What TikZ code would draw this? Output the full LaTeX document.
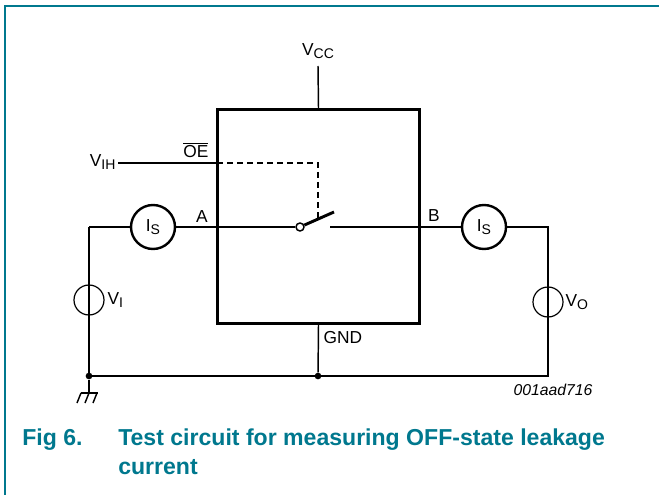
\documentclass[tikz,border=0pt]{standalone}
\usepackage{fontspec}
\setmainfont{Liberation Sans}
\definecolor{figteal}{RGB}{0,120,142}
\newcommand{\sig}[2]{#1\raisebox{-0.3ex}{\fontsize{10.5}{12}\selectfont #2}}

\begin{document}
\begin{tikzpicture}[x=0.75pt,y=-0.75pt,
    wire/.style={line width=1.1pt},
    dut/.style={draw,line width=2.2pt,minimum width=152pt,minimum height=160pt},
    meter/.style={circle,draw,line width=1.8pt,minimum size=33pt,inner sep=0pt,
      font=\fontsize{13}{15}\selectfont},
    source/.style={circle,draw,line width=0.9pt,minimum size=22.5pt,inner sep=0pt},
    junction/.style={circle,fill,inner sep=0pt,minimum size=5pt},
    lbl/.style={font=\fontsize{13}{15}\selectfont,inner sep=1pt},
    caption/.style={font=\bfseries\fontsize{17.3}{20}\selectfont,text=figteal,inner sep=0pt}]
    \useasboundingbox (0,0) rectangle (659,495);
    % frame
    \draw[figteal,line width=1.1pt] (5,495) -- (5,6) -- (659,6);

    \node[dut] at (318.5,216.5) (ic) {};
    \node[meter] at (153,227) (isa) {\sig{I}{S}};
    \node[meter] at (484,227) (isb) {\sig{I}{S}};
    \node[source] at (89,300) (vi) {};
    \node[source] at (548,302) (vo) {};
    \node[junction] at (89,376) (gnda) {};
    \node[junction] at (318,376) (gndb) {};
    \node[circle,draw,wire,fill=white,minimum size=6pt,inner sep=0pt]
      at (300,227) (pivot) {};

    \coordinate (vcc) at (318,66);
    \coordinate (vih) at (118,163);
    \coordinate (oe) at (217,163);
    \coordinate (ctrl) at (318,163);
    \coordinate (arm) at (318,219);
    \coordinate (lever) at (334,212);
    \coordinate (contact) at (330,227);
    \coordinate (lefttop) at (89,227);
    \coordinate (righttop) at (548,227);
    \coordinate (rightbot) at (548,376);
    \coordinate (earth) at (89,393);

    % supply, ground and control
    \draw[wire] (vcc) -- (ic.north);
    \draw[wire] (ic.south) -- (gndb);
    \draw[wire] (vih) -- (oe);
    \draw[wire,dash pattern=on 4.5pt off 3pt] (oe) -- (ctrl) -- (arm);
    % switch
    \draw[line width=2.2pt] (pivot) -- (lever);
    % loop
    \draw[wire] (lefttop) -- (isa);
    \draw[wire] (isa) -- (pivot);
    \draw[wire] (contact) -- (isb);
    \draw[wire] (isb) -- (righttop) -- (rightbot) -- (gnda.center) -- (lefttop);
    % earth
    \draw[wire] (gnda) -- (earth);
    \draw[wire] (81,393) -- (98,393);
    \foreach \x in {81,89,97}
      \draw[wire] (\x,393) -- ++(-4,10);

    % labels
    \node[lbl] at (318,51) (vcclbl) {\sig{V}{CC}};
    \node[lbl,anchor=east] at (117,162) (vihlbl) {\sig{V}{IH}};
    \node[lbl,anchor=south east] at (210,159) (oelbl) {$\overline{\mbox{OE}}$};
    \node[lbl,anchor=south] at (202,224) (albl) {A};
    \node[lbl,anchor=south] at (434,223) (blbl) {B};
    \node[lbl,anchor=west] at (106,300) (vilbl) {\sig{V}{I}};
    \node[lbl,anchor=west] at (564,302) (volbl) {\sig{V}{O}};
    \node[lbl,anchor=west] at (322,338) (gndlbl) {GND};
    \node[font=\itshape\fontsize{11.8}{13}\selectfont,anchor=east] at (597,390)
      (code) {001aad716};

    % caption
    \node[caption,anchor=base west] at (22,445) (fig) {Fig 6.};
    \node[caption,anchor=base west] at (118,445) (title)
      {Test circuit for measuring OFF-state leakage};
    \node[caption,anchor=base west] at (118,474) (title2) {current};
\end{tikzpicture}
\end{document}
